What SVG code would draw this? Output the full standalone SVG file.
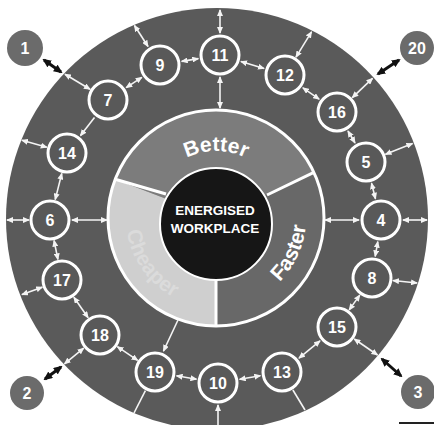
<svg xmlns="http://www.w3.org/2000/svg" width="434" height="425" viewBox="0 0 434 425">
<style>
.node circle{fill:#595959;stroke:#fff;stroke-width:3}
.outer circle{fill:#6b6b6b;stroke:none}
.lbl{font-family:"Liberation Sans",Arial,sans-serif;font-weight:bold;font-size:16px;fill:#fff;text-anchor:middle}
.w{stroke:#f4f4f4;stroke-width:1.6;fill:none;marker-start:url(#wh);marker-end:url(#wh)}
.w1{stroke:#f4f4f4;stroke-width:1.6;fill:none;marker-end:url(#wh)}
.w0{stroke:#f4f4f4;stroke-width:1.6;fill:none}
.b{stroke:#111;stroke-width:3;fill:none;marker-start:url(#bh);marker-end:url(#bh)}
.seg{font-family:"Liberation Sans",Arial,sans-serif;font-weight:bold;font-size:21px;fill:#fff}
.ctr{font-family:"Liberation Sans",Arial,sans-serif;font-weight:bold;font-size:13.5px;fill:#fff;text-anchor:middle}
</style>
<defs>
<marker id="wh" markerUnits="userSpaceOnUse" markerWidth="7" markerHeight="6" refX="6" refY="3" orient="auto-start-reverse"><path d="M0,0 L7,3 L0,6 Z" fill="#f4f4f4"/></marker>
<marker id="bh" markerUnits="userSpaceOnUse" markerWidth="9" markerHeight="8" refX="7" refY="4" orient="auto-start-reverse"><path d="M0,0 L9,4 L0,8 Z" fill="#111"/></marker>
<path id="pBetter" d="M164.7,174.9 A67,67 0 0 1 267.3,174.9"/>
<path id="pFaster" d="M261,295.9 A90,90 0 0 0 304.6,202.4"/>
<path id="pCheaper" d="M126.3,210.2 A90,90 0 0 0 192.7,304.9"/>
</defs>
<rect width="434" height="425" fill="#fff"/>
<g id="background">
<circle cx="217" cy="219" r="211" fill="#5a5a5a"/>
<path d="M216,218 L115.2,179.3 A108,108 0 0 1 313.9,172.4 Z" fill="#7c7c7c"/>
<path d="M216,218 L313.9,172.4 A108,108 0 0 1 216,326 Z" fill="#686868"/>
<path d="M216,218 L216,326 A108,108 0 0 1 115.2,179.3 Z" fill="#cfcfcf"/>
<circle cx="216" cy="218" r="108" fill="none" stroke="#fff" stroke-width="3"/>
<line x1="115.2" y1="179.3" x2="166" y2="194" stroke="#fff" stroke-width="3"/>
<line x1="313.9" y1="172.4" x2="267" y2="195" stroke="#fff" stroke-width="3"/>
<line x1="216" y1="326" x2="216" y2="279" stroke="#fff" stroke-width="3"/>
<circle cx="216" cy="224" r="56" fill="#161616" stroke="#fff" stroke-width="2"/>
<text class="seg"><textPath href="#pBetter" startOffset="50%" text-anchor="middle">Better</textPath></text>
<text class="seg" font-size="20"><textPath href="#pFaster" startOffset="50%" text-anchor="middle">Faster</textPath></text>
<text class="seg" font-size="20" fill-opacity="0.25"><textPath href="#pCheaper" startOffset="50%" text-anchor="middle">Cheaper</textPath></text>
<text class="ctr" x="215" y="215">ENERGISED</text>
<text class="ctr" x="215" y="233">WORKPLACE</text>
<rect x="399" y="422" width="35" height="2" fill="#222"/>
</g>
<g id="connectors">
<line class="w" x1="181.7" y1="61.4" x2="198.3" y2="58.6"/>
<line class="w" x1="241" y1="61.5" x2="264" y2="68.5"/>
<line class="w" x1="220" y1="33" x2="220" y2="10"/>
<line class="w" x1="220" y1="77" x2="220" y2="108"/>
<line class="w" x1="126.2" y1="87.7" x2="141.8" y2="77.3"/>
<line class="w" x1="148" y1="46.5" x2="134.5" y2="25.5"/>
<line class="w" x1="65" y1="74.2" x2="90" y2="89.2"/>
<line class="w1" x1="94.5" y1="117.4" x2="80.5" y2="135.6"/>
<line class="w" x1="46.8" y1="147.3" x2="22" y2="140.3"/>
<line class="w" x1="61.8" y1="173.4" x2="55.2" y2="199.6"/>
<line class="w" x1="29" y1="220" x2="7" y2="220"/>
<line class="w" x1="107" y1="220" x2="72" y2="220"/>
<line class="w" x1="54.1" y1="240.6" x2="57.9" y2="259.4"/>
<line class="w" x1="42.3" y1="287.2" x2="22" y2="294.6"/>
<line class="w" x1="73.9" y1="297.3" x2="88.1" y2="317.7"/>
<line class="w" x1="117.4" y1="346.7" x2="137.6" y2="360.3"/>
<line class="w" x1="83.7" y1="348.2" x2="64.5" y2="363.8"/>
<line class="w1" x1="178" y1="320" x2="163.5" y2="351"/>
<line class="w0" x1="145.4" y1="390.7" x2="134" y2="413"/>
<line class="w" x1="176.6" y1="375.8" x2="196.4" y2="379.2"/>
<line class="w1" x1="218" y1="425" x2="218" y2="405"/>
<line class="w" x1="239.7" y1="379.3" x2="260.3" y2="375.7"/>
<line class="w0" x1="292.9" y1="390" x2="305" y2="410"/>
<line class="w" x1="299" y1="358.1" x2="320" y2="340.9"/>
<line class="w" x1="354.3" y1="339" x2="377.5" y2="355"/>
<line class="w" x1="349.2" y1="309.9" x2="359.8" y2="295.1"/>
<line class="w" x1="393" y1="280.5" x2="417" y2="283"/>
<line class="w" x1="377.8" y1="241.7" x2="375.2" y2="256.3"/>
<line class="w" x1="403" y1="220" x2="427" y2="220"/>
<line class="w" x1="325" y1="220" x2="359" y2="220"/>
<line class="w" x1="371.5" y1="183.3" x2="375.5" y2="198.7"/>
<line class="w" x1="385.5" y1="154.3" x2="412.5" y2="143.6"/>
<line class="w" x1="348" y1="131" x2="355" y2="143"/>
<line class="w" x1="352.3" y1="97.6" x2="372.5" y2="78.4"/>
<line class="w" x1="302.9" y1="87.8" x2="319.1" y2="99.2"/>
<line class="w" x1="296" y1="57.1" x2="311.5" y2="31.8"/>
<line class="b" x1="61" y1="72" x2="44" y2="60"/>
<line class="b" x1="378" y1="74" x2="399" y2="60"/>
<line class="b" x1="61" y1="367" x2="45" y2="379"/>
<line class="b" x1="382" y1="359" x2="401" y2="376"/>
</g>
<g id="n1" class="outer"><circle cx="25" cy="48" r="18"/><text class="lbl" x="25" y="54">1</text></g>
<g id="n20" class="outer"><circle cx="417" cy="48" r="17"/><text class="lbl" x="417" y="54">20</text></g>
<g id="n2" class="outer"><circle cx="27" cy="393" r="17"/><text class="lbl" x="27" y="399">2</text></g>
<g id="n3" class="outer"><circle cx="418" cy="392" r="17"/><text class="lbl" x="418" y="398">3</text></g>
<g id="n11" class="node"><circle cx="220" cy="55" r="19"/><text class="lbl" x="220" y="61">11</text></g>
<g id="n9" class="node"><circle cx="160" cy="65" r="19"/><text class="lbl" x="160" y="71">9</text></g>
<g id="n12" class="node"><circle cx="285" cy="75" r="19"/><text class="lbl" x="285" y="81">12</text></g>
<g id="n7" class="node"><circle cx="108" cy="100" r="19"/><text class="lbl" x="108" y="106">7</text></g>
<g id="n16" class="node"><circle cx="337" cy="112" r="19"/><text class="lbl" x="337" y="118">16</text></g>
<g id="n14" class="node"><circle cx="67" cy="153" r="19"/><text class="lbl" x="67" y="159">14</text></g>
<g id="n5" class="node"><circle cx="366" cy="162" r="19"/><text class="lbl" x="366" y="168">5</text></g>
<g id="n6" class="node"><circle cx="50" cy="220" r="19"/><text class="lbl" x="50" y="226">6</text></g>
<g id="n4" class="node"><circle cx="381" cy="220" r="19"/><text class="lbl" x="381" y="226">4</text></g>
<g id="n17" class="node"><circle cx="62" cy="280" r="19"/><text class="lbl" x="62" y="286">17</text></g>
<g id="n8" class="node"><circle cx="372" cy="278" r="19"/><text class="lbl" x="372" y="284">8</text></g>
<g id="n18" class="node"><circle cx="100" cy="335" r="19"/><text class="lbl" x="100" y="341">18</text></g>
<g id="n15" class="node"><circle cx="337" cy="327" r="19"/><text class="lbl" x="337" y="333">15</text></g>
<g id="n19" class="node"><circle cx="155" cy="372" r="19"/><text class="lbl" x="155" y="378">19</text></g>
<g id="n13" class="node"><circle cx="282" cy="372" r="19"/><text class="lbl" x="282" y="378">13</text></g>
<g id="n10" class="node"><circle cx="218" cy="383" r="19"/><text class="lbl" x="218" y="389">10</text></g>
</svg>
